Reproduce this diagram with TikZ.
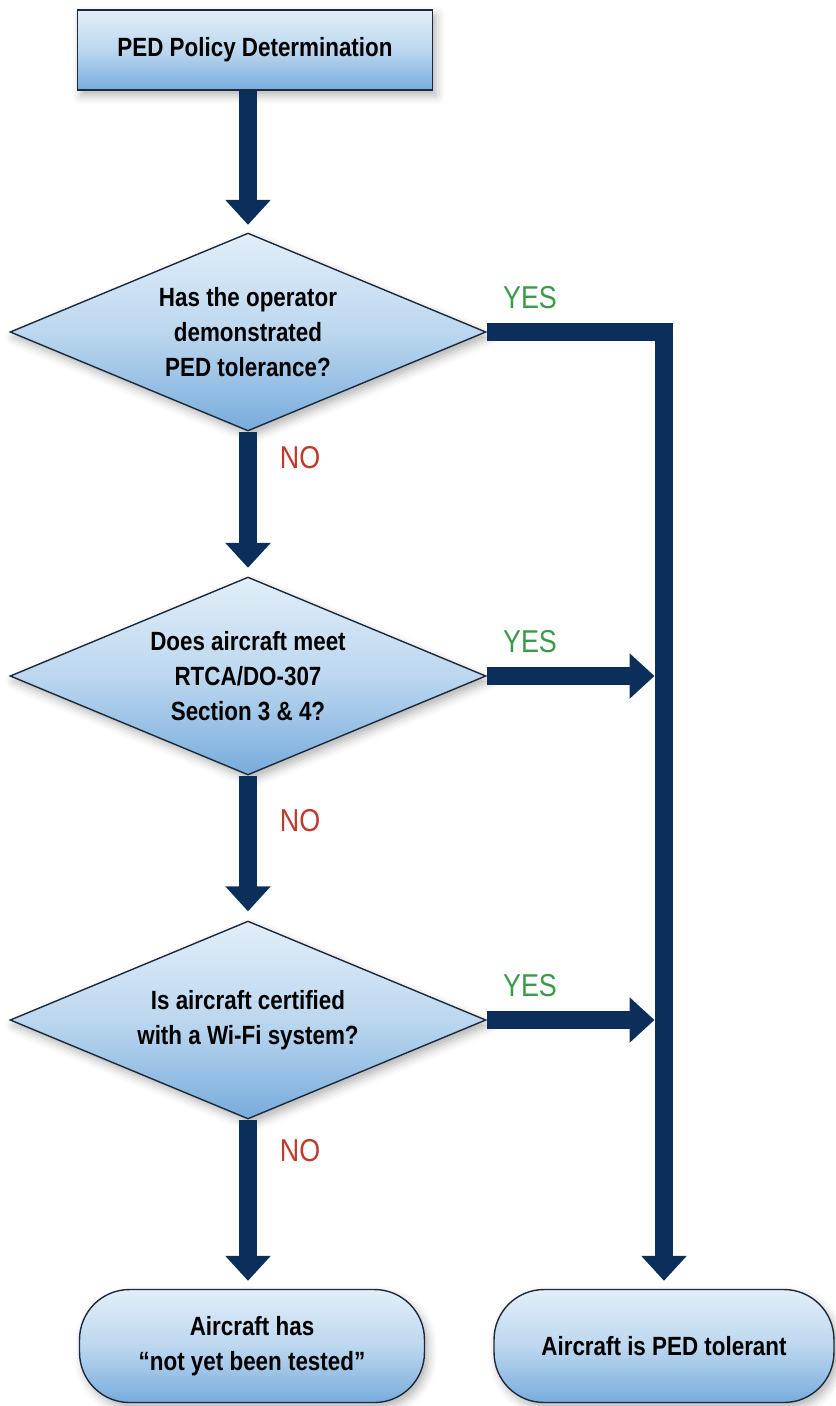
\documentclass[tikz,border=0pt]{standalone}
\usepackage{fontspec}
\setmainfont{Liberation Sans}[FakeStretch=0.85]
\usetikzlibrary{shapes.geometric, arrows.meta, shadows.blur}
\definecolor{navy}{HTML}{0C2E5A}
\definecolor{edge}{HTML}{1C2A3C}
\definecolor{paleblue}{HTML}{E2EEF9}
\definecolor{softblue}{HTML}{BCD7EF}
\definecolor{midblue}{HTML}{78ACDC}
\definecolor{yesgreen}{HTML}{3A9A4A}
\definecolor{nored}{HTML}{BE3A2C}

\begin{document}
\begin{tikzpicture}[x=0.02cm, y=-0.02cm,
    filled/.style={draw=edge, line width=0.8pt, top color=paleblue, bottom color=midblue, middle color=softblue,
        blur shadow={shadow xshift=2pt, shadow yshift=-3pt, shadow blur radius=5pt, shadow opacity=30},
        align=center, font=\bfseries\fontsize{15}{20}\selectfont},
    panel/.style={filled, rectangle, minimum width=7.1cm, minimum height=1.6cm},
    question/.style={filled, diamond, aspect=2.4, inner sep=0pt, minimum width=9.52cm, minimum height=3.96cm},
    outcome/.style={filled, rectangle, rounded corners=1cm, minimum height=2.26cm},
    flow/.style={navy, line width=0.36cm, -{Triangle[width=0.88cm, length=0.5cm]}},
    yes/.style={text=yesgreen, font=\fontsize{18}{20}\selectfont},
    no/.style={text=nored, font=\fontsize{18}{20}\selectfont}]
    \useasboundingbox (0,0) rectangle (835,1406);
    \node[panel] (policy) at (255,50) {PED Policy Determination};
    \node[question] (tolerance) at (248,332) {Has the operator\\demonstrated\\PED tolerance?};
    \node[question] (rtca) at (248,676) {Does aircraft meet\\RTCA/DO-307\\Section 3 \& 4?};
    \node[question] (wifi) at (248,1020) {Is aircraft certified\\with a Wi-Fi system?};
    \node[outcome, minimum width=6.9cm] (untested) at (252,1346) {Aircraft has\\“not yet been tested”};
    \node[outcome, minimum width=6.8cm] (tolerant) at (664,1346) {Aircraft is PED tolerant};
    \draw[flow, shorten >=0.15cm] (policy.south -| tolerance.north) -- (tolerance.north);
    \draw[flow, shorten >=0.17cm] (tolerance.south) -- (rtca.north);
    \draw[flow, shorten >=0.18cm] (rtca.south) -- (wifi.north);
    \draw[flow, shorten >=0.16cm] (wifi.south) -- (wifi.south |- untested.north);
    \draw[flow, line join=miter, shorten >=0.16cm] (tolerance.east) -| (tolerant.north);
    \draw[flow, shorten >=0.19cm] (rtca.east) -- (rtca.east -| tolerant.north);
    \draw[flow, shorten >=0.19cm] (wifi.east) -- (wifi.east -| tolerant.north);
    \node[yes] (yes1) at (530,298) {YES};
    \node[yes] (yes2) at (530,642) {YES};
    \node[yes] (yes3) at (530,986) {YES};
    \node[no] (no1) at (300,458) {NO};
    \node[no] (no2) at (300,821) {NO};
    \node[no] (no3) at (300,1151) {NO};
\end{tikzpicture}
\end{document}
